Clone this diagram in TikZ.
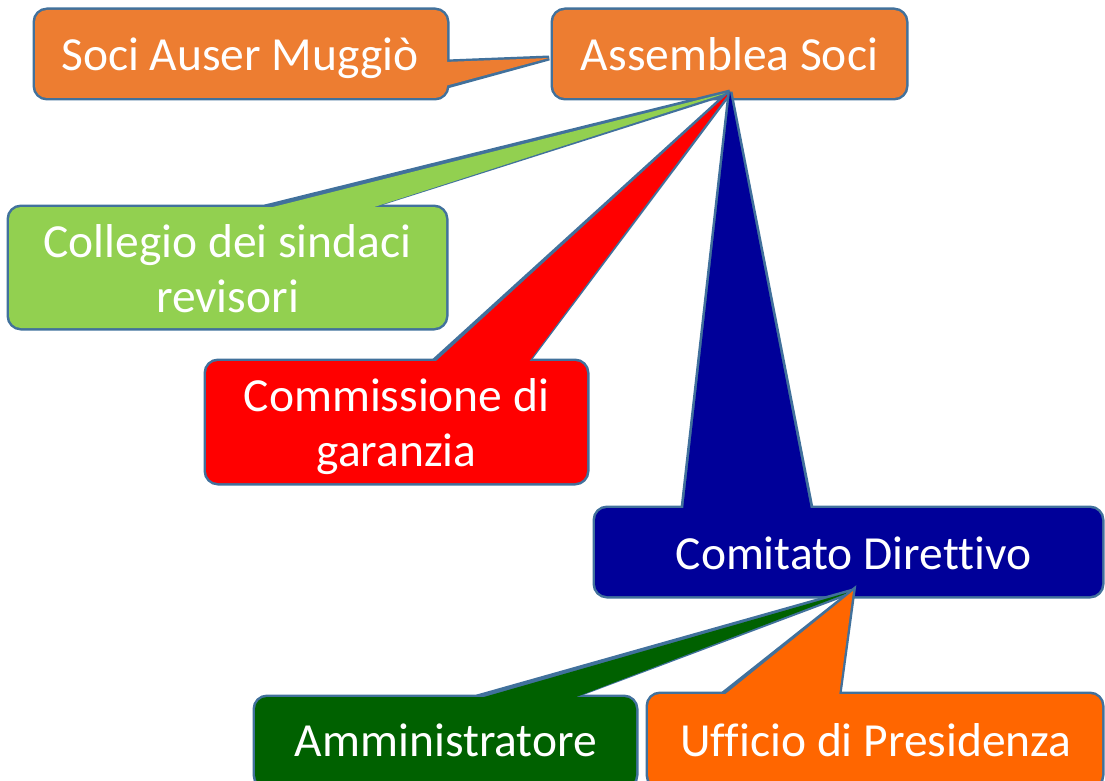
\documentclass[tikz,border=0pt]{standalone}
\usepackage{fontspec}
\setmainfont[Ligatures={NoCommon}]{Carlito}
\definecolor{bord}{HTML}{41719C}
\definecolor{orangeA}{HTML}{ED7D31}
\definecolor{greenA}{HTML}{92D050}
\definecolor{redA}{HTML}{FF0000}
\definecolor{blueA}{HTML}{000099}
\definecolor{greenB}{HTML}{006100}
\definecolor{orangeB}{HTML}{FF6600}
\tikzset{
  boxshape/.style={rectangle, rounded corners=12pt, inner sep=0pt},
  boxline/.style={boxshape, draw=bord, line width=5pt},
  boxfill/.style={boxshape},
  lbl/.style={anchor=base, inner sep=0pt, text=white,
     font=\fontsize{47.5}{55}\selectfont},
  wedgeline/.style={draw=bord, line width=5pt, miter limit=3},
}
% #1 name, #2 colour, #3 center, #4 width, #5 height
\newcommand{\cbox}[5]{%
  \node[boxline, fill=#2, minimum width=#4pt, minimum height=#5pt] at #3 {};
}
\newcommand{\cboxtop}[5]{%
  \node[boxfill, fill=#2, minimum width=#4pt, minimum height=#5pt] (#1) at #3 {};
}
\begin{document}
\begin{tikzpicture}[x=1pt,y=-1pt]
\useasboundingbox (0,0) rectangle (1105,781);
% Assemblea Soci
\cbox{asm}{orangeA}{(729.5,54)}{353}{88}
\cboxtop{asm}{orangeA}{(729.5,54)}{353}{88}
\node[lbl] (asmT) at (729.5,71) {Assemblea Soci};
\coordinate (tipA) at (730,92);
\coordinate (tipB) at (853,591);
% Soci Auser Muggio
\cbox{soci}{orangeA}{(241,54)}{412}{88}
\path[wedgeline, fill=orangeA] (447,62) -- (549,58) -- (447,86) -- cycle;
\cboxtop{soci}{orangeA}{(241,54)}{412}{88}
\fill[orangeA] (445,62) -- (549,58) -- (445,86) -- cycle;
\node[lbl] (sociT) at (240,71) {Soci Auser Muggiò};
% Collegio
\cbox{coll}{greenA}{(227.5,267.5)}{437}{121}
\path[wedgeline, fill=greenA] (265,207) -- (tipA) -- (368,207) -- cycle;
\cboxtop{coll}{greenA}{(227.5,267.5)}{437}{121}
\fill[greenA] (265,209) -- (tipA) -- (368,209) -- cycle;
\node[lbl] (collT1) at (227.5,257) {Collegio dei sindaci};
\node[lbl] (collT2) at (227.5,312) {revisori};
% Commissione
\cbox{comm}{redA}{(396.5,422)}{381}{122}
\path[wedgeline, fill=redA] (434,361) -- (tipA) -- (528,361) -- cycle;
\cboxtop{comm}{redA}{(396.5,422)}{381}{122}
\fill[redA] (434,363) -- (tipA) -- (528,363) -- cycle;
\node[lbl] (commT1) at (396.5,411) {Commissione di};
\node[lbl] (commT2) at (396.5,466) {garanzia};
% Comitato
\cbox{comi}{blueA}{(848.5,552)}{507}{88}
\path[wedgeline, fill=blueA] (683,508) -- (tipA) -- (811,508) -- cycle;
\cboxtop{comi}{blueA}{(848.5,552)}{507}{88}
\fill[blueA] (683,510) -- (tipA) -- (811,510) -- cycle;
\node[lbl] (comiT) at (853.5,569) {Comitato Direttivo};
% Amministratore
\cbox{amm}{greenB}{(445.5,742)}{381}{90}
\path[wedgeline, fill=greenB] (477,697) -- (tipB) -- (571,697) -- cycle;
\cboxtop{amm}{greenB}{(445.5,742)}{381}{90}
\fill[greenB] (477,699) -- (tipB) -- (571,699) -- cycle;
\node[lbl] (ammT) at (446,756) {Amministratore};
% Ufficio
\cbox{uff}{orangeB}{(875,740.5)}{454}{93}
\path[wedgeline, fill=orangeB] (723,694) -- (tipB) -- (839,694) -- cycle;
\cboxtop{uff}{orangeB}{(875,740.5)}{454}{93}
\fill[orangeB] (723,696) -- (tipB) -- (839,696) -- cycle;
\node[lbl] (uffT) at (876,756) {Ufficio di Presidenza};
\end{tikzpicture}
\end{document}
